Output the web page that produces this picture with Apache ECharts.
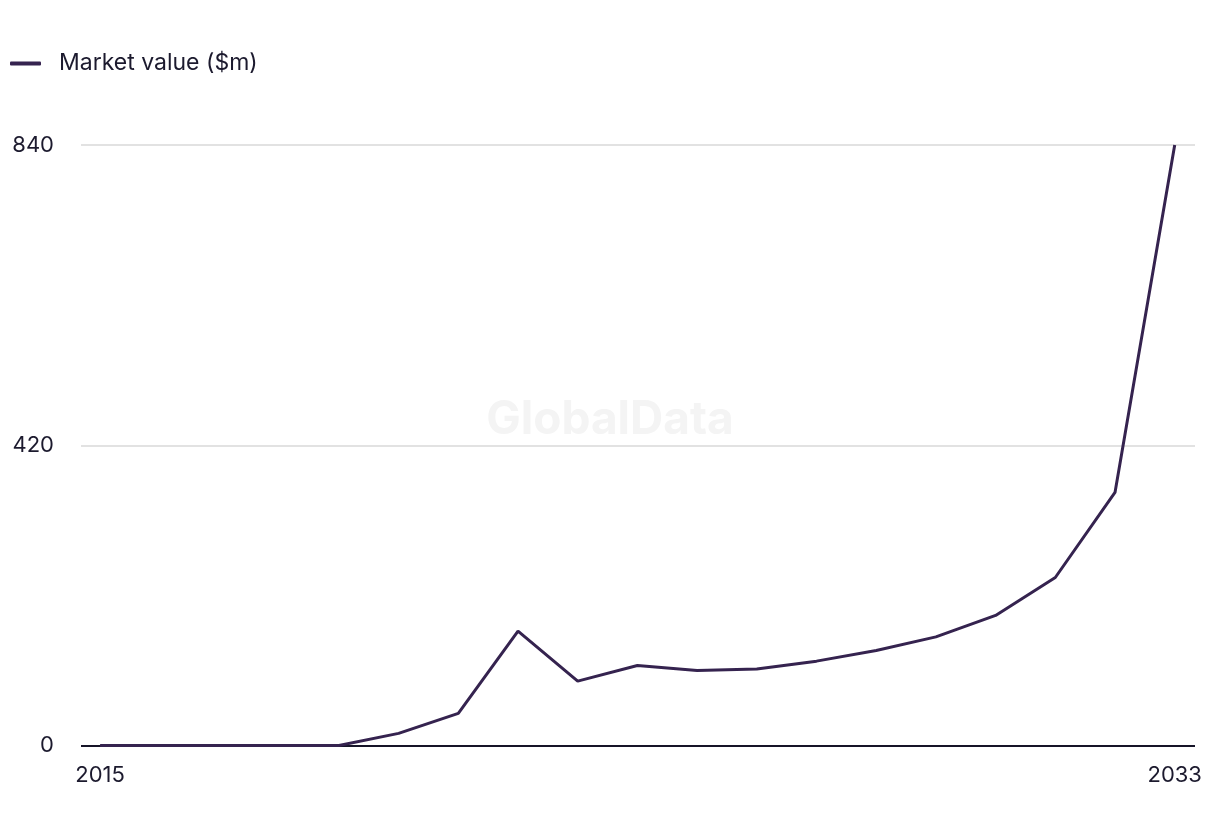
<!DOCTYPE html>
<html>
<head>
<meta charset="utf-8">
<script src="https://cdn.jsdelivr.net/npm/echarts@6/dist/echarts.min.js"></script>
<style>html,body{margin:0;padding:0;background:#fff}#c{width:1220px;height:836px}</style>
</head>
<body>
<div id="c"></div>
<script>
const years = [2015,2016,2017,2018,2019,2020,2021,2022,2023,2024,2025,2026,2027,2028,2029,2030,2031,2032,2033];
const marketValue = [0,0,0,0,0,17,45,160,90,112,105,107,118,133,152,182,235,354,840];
const yTicks = [0,420,840];
const xTickLabels = [2015,2033];
const seriesName = 'Market value ($m)';

const chart = echarts.init(document.getElementById('c'));
const font = 'Inter, "Noto Sans", sans-serif';
chart.setOption({
  animation: false,
  backgroundColor: '#fff',
  graphic: [{
    type: 'text', left: 'center', top: 397, z: 0,
    style: { text: 'GlobalData', fontSize: 46, fontWeight: 'bold', fontFamily: font, fill: '#f4f4f4' }
  }],
  legend: {
    left: 10, top: 52, padding: 0, itemWidth: 31, itemHeight: 4, itemGap: 20,
    icon: 'roundRect',
    textStyle: { fontSize: 23, color: '#1c1a2e', fontFamily: font, padding: [0,0,0,13] },
    data: [seriesName]
  },
  grid: { left: 81, right: 25, top: 145, bottom: 90.5, containLabel: false },
  xAxis: {
    type: 'value', min: 2014.68, max: 2033.34,
    axisLine: { show: false },
    axisTick: { show: false },
    splitLine: { show: false },
    axisLabel: { customValues: xTickLabels, formatter: v => String(v), fontSize: 22, color: '#1c1a2e', fontFamily: font, margin: 19 }
  },
  yAxis: {
    type: 'value', min: 0, max: 840, interval: 420,
    axisLine: { show: false }, axisTick: { show: false },
    splitLine: { lineStyle: { color: '#d9d9d9', width: 1.5 } },
    axisLabel: { fontSize: 22, color: '#1c1a2e', fontFamily: font, margin: 27, customValues: yTicks }
  },
  series: [{
    name: seriesName, type: 'line', symbol: 'none',
    data: years.map((y,i)=>[y, marketValue[i]]),
    lineStyle: { color: '#35234f', width: 3 },
    itemStyle: { color: '#35234f' },
    z: 3,
    markLine: {
      silent: true, symbol: 'none', label: { show: false },
      lineStyle: { color: '#161428', width: 2, type: 'solid' },
      z: 2,
      data: [[{ coord: [2014.68, 0] }, { coord: [2033.34, 0] }]]
    }
  }]
});
</script>
</body>
</html>
